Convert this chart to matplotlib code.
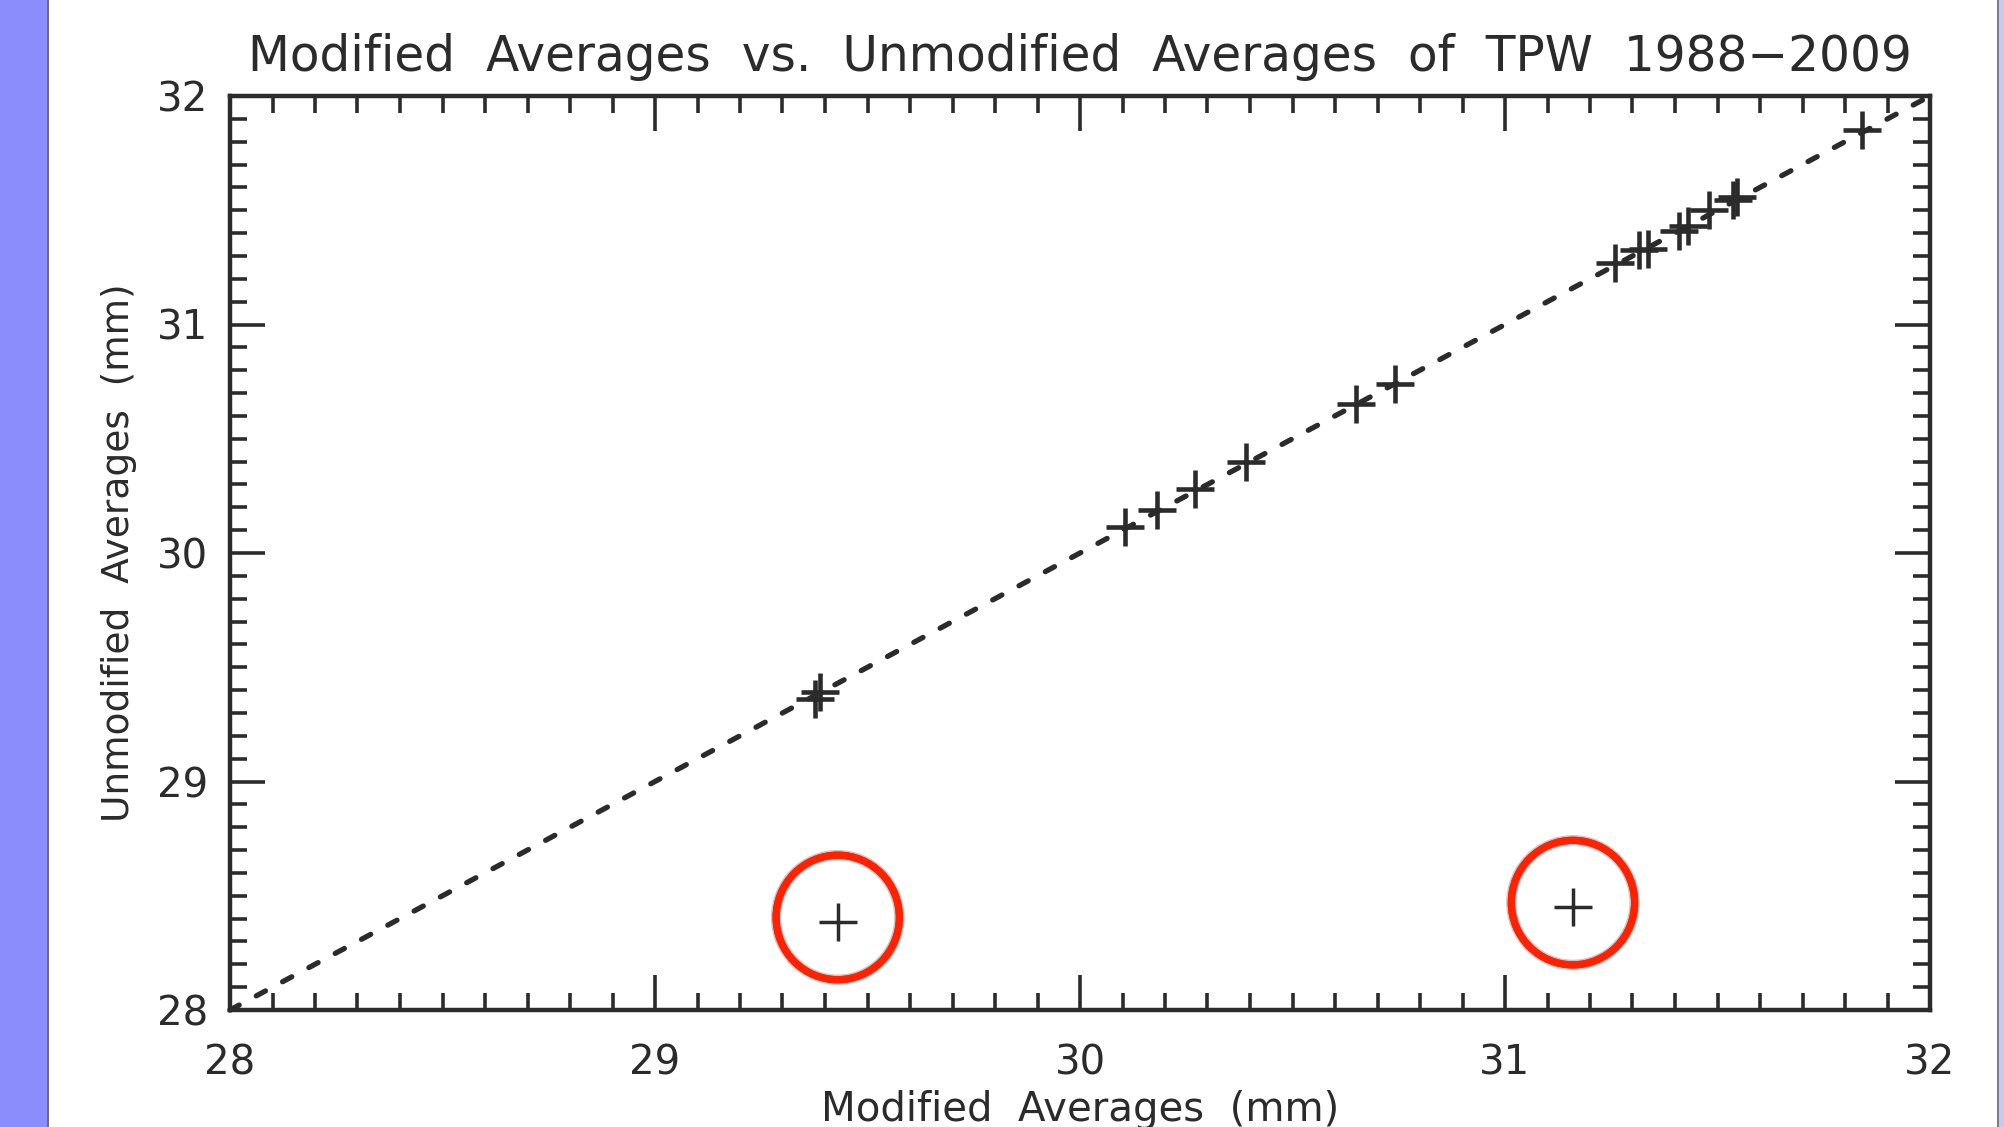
import matplotlib
matplotlib.use("Agg")
import matplotlib.pyplot as plt
import matplotlib.patheffects as pe
from matplotlib.patches import Ellipse, Rectangle
from matplotlib.ticker import MultipleLocator

# yearly averages, modified vs unmodified (mm)
modified = [29.376, 29.388, 30.106, 30.18, 30.27, 30.39, 30.65, 30.74,
            31.259, 31.315, 31.336, 31.41, 31.43, 31.48, 31.536, 31.546, 31.84]
unmodified = [29.362, 29.392, 30.114, 30.19, 30.28, 30.40, 30.65, 30.74,
              31.269, 31.326, 31.33, 31.41, 31.43, 31.50, 31.545, 31.56, 31.85]
# the two years that stand out
out_mod = [29.43, 31.16]
out_unmod = [28.385, 28.45]

line_x = [28, 32]
ticks = [28, 29, 30, 31, 32]

ink = "#2b2b2b"
plt.rcParams["lines.scale_dashes"] = False

fig = plt.figure(figsize=(20.04, 11.27), dpi=100)
fig.patch.set_facecolor("white")

# slide border on the left / right
fig.add_artist(Rectangle((0, 0), 48 / 2004, 1, transform=fig.transFigure,
                         facecolor="#8b8dfc", edgecolor="none"))
fig.add_artist(Rectangle((47 / 2004, 0), 2 / 2004, 1, transform=fig.transFigure,
                         facecolor="#6a6a7a", edgecolor="none"))
fig.add_artist(Rectangle((1997 / 2004, 0), 2 / 2004, 1, transform=fig.transFigure,
                         facecolor="#7a7a90", edgecolor="none"))
fig.add_artist(Rectangle((1999 / 2004, 0), 5 / 2004, 1, transform=fig.transFigure,
                         facecolor="#c8c8f0", edgecolor="none"))

ax = fig.add_axes([230 / 2004, 1 - 1010 / 1127, 1700 / 2004, 914 / 1127])

ax.plot(line_x, line_x, color=ink, lw=3.8, dashes=(7.5, 14),
        dash_capstyle="round", clip_on=False, zorder=2)
ax.plot(modified, unmodified, "+", color=ink, ms=27, mew=3.3, zorder=3)
ax.plot(out_mod, out_unmod, "+", color=ink, ms=27, mew=2.5, zorder=3)

for x, y in zip(out_mod, out_unmod):
    e = Ellipse((x, y + 0.02), 0.29, 0.545, facecolor="none",
                edgecolor="#ff2200", lw=5.2, zorder=4)
    e.set_path_effects([pe.withStroke(linewidth=7.5, foreground="#c8c8c8"),
                        pe.Normal()])
    ax.add_patch(e)

ax.set_xlim(28, 32)
ax.set_ylim(28, 32)
ax.set_xticks(ticks)
ax.set_yticks(ticks)
ax.xaxis.set_minor_locator(MultipleLocator(0.1))
ax.yaxis.set_minor_locator(MultipleLocator(0.1))
ax.tick_params(which="both", direction="in", top=True, right=True,
               color=ink, labelcolor=ink, labelsize=29)
ax.tick_params(which="major", length=25, width=2.6)
ax.tick_params(which="minor", length=12, width=2.6)
ax.tick_params(axis="x", which="major", pad=24)
ax.tick_params(axis="y", which="major", pad=16)
for s in ax.spines.values():
    s.set_linewidth(3.2)
    s.set_color(ink)

ax.set_title("Modified  Averages  vs.  Unmodified  Averages  of  TPW  1988\u22122009",
             fontsize=35, color=ink, pad=18)
ax.set_xlabel("Modified  Averages  (mm)", fontsize=29, color=ink, labelpad=5)
ax.set_ylabel("Unmodified  Averages  (mm)", fontsize=27, color=ink, labelpad=14)

fig.savefig("out.png", dpi=100)
